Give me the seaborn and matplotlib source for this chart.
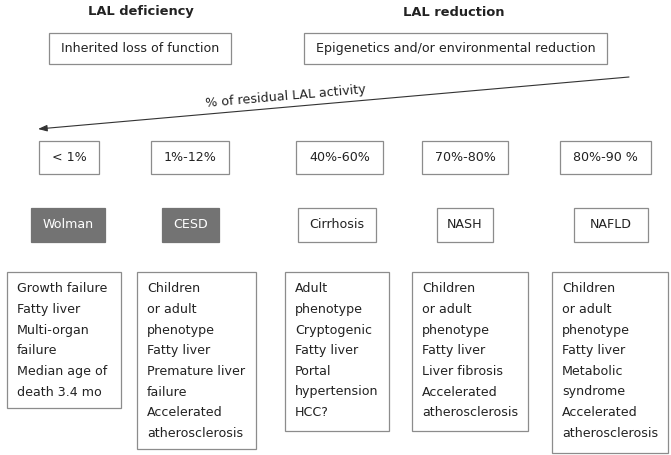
import matplotlib
matplotlib.use("Agg")
import matplotlib.pyplot as plt
from matplotlib.patches import Rectangle
import seaborn as sns

sns.set_theme(style="white")
plt.rcParams['font.family'] = ['DejaVu Sans']

# ---- content ----
group_titles = ["LAL deficiency", "LAL reduction"]
cause_labels = ["Inherited loss of function", "Epigenetics and/or environmental reduction"]
arrow_label = "% of residual LAL activity"
activity_labels = ["< 1%", "1%-12%", "40%-60%", "70%-80%", "80%-90 %"]
disease_labels = ["Wolman", "CESD", "Cirrhosis", "NASH", "NAFLD"]
disease_filled = [True, True, False, False, False]
features_wolman = ["Growth failure", "Fatty liver", "Multi-organ", "failure", "Median age of", "death 3.4 mo"]
features_cesd = ["Children", "or adult", "phenotype", "Fatty liver", "Premature liver", "failure",
                 "Accelerated", "atherosclerosis"]
features_cirrhosis = ["Adult", "phenotype", "Cryptogenic", "Fatty liver", "Portal", "hypertension", "HCC?"]
features_nash = ["Children", "or adult", "phenotype", "Fatty liver", "Liver fibrosis", "Accelerated",
                 "atherosclerosis"]
features_nafld = ["Children", "or adult", "phenotype", "Fatty liver", "Metabolic", "syndrome",
                  "Accelerated", "atherosclerosis"]
features = [features_wolman, features_cesd, features_cirrhosis, features_nash, features_nafld]

# ---- layout (pixels) ----
W, H = 671, 455
fig = plt.figure(figsize=(W / 100, H / 100), dpi=100)
ax = fig.add_axes([0, 0, 1, 1])
ax.set_xlim(0, W)
ax.set_ylim(H, 0)
ax.axis("off")

edge = "#8c8c8c"
txt = "#222222"
fill = "#737373"
fs = 9.1

def box(x0, y0, x1, y1, face="white", ec=edge):
    ax.add_patch(Rectangle((x0, y0), x1 - x0, y1 - y0, facecolor=face, edgecolor=ec, lw=0.9))

# titles
title_x = [141, 454]
for t, x in zip(group_titles, title_x):
    ax.text(x, 12, t, ha="center", va="center", fontsize=9.4, fontweight="bold", color=txt)

# cause boxes
cause_boxes = [(49, 33, 231, 64), (304, 33, 607, 64)]
for lab, (x0, y0, x1, y1) in zip(cause_labels, cause_boxes):
    box(x0, y0, x1, y1)
    ax.text((x0 + x1) / 2, (y0 + y1) / 2, lab, ha="center", va="center", fontsize=fs, color=txt)

# arrow
ax.annotate("", xy=(38, 129), xytext=(629, 77),
            arrowprops=dict(arrowstyle="-|>,head_length=0.45,head_width=0.16", color="#333333", lw=0.8,
                            shrinkA=0, shrinkB=0))
ax.text(286, 97, arrow_label, ha="center", va="center", rotation=5.0, rotation_mode="anchor",
        fontsize=fs, color=txt)

# activity boxes
act_x = [(39, 99), (151, 229), (296, 383), (422, 508), (560, 651)]
for lab, (x0, x1) in zip(activity_labels, act_x):
    box(x0, 141, x1, 174)
    ax.text((x0 + x1) / 2, 157.5, lab, ha="center", va="center", fontsize=fs, color=txt)

# disease boxes
dis_x = [(31, 105), (162, 219), (298, 376), (437, 493), (574, 648)]
for lab, filled, (x0, x1) in zip(disease_labels, disease_filled, dis_x):
    if filled:
        box(x0, 208, x1, 242, face=fill, ec=fill)
        ax.text((x0 + x1) / 2, 225, lab, ha="center", va="center", fontsize=fs, color="white")
    else:
        box(x0, 208, x1, 242)
        ax.text((x0 + x1) / 2, 225, lab, ha="center", va="center", fontsize=fs, color=txt)

# feature boxes
feat_boxes = [(7, 272, 121, 408), (137, 272, 256, 449), (285, 272, 389, 431),
              (412, 272, 528, 431), (552, 272, 668, 453)]
for lines, (x0, y0, x1, y1) in zip(features, feat_boxes):
    box(x0, y0, x1, y1)
    for i, line in enumerate(lines):
        ax.text(x0 + 10, 292.5 + i * 20.6, line, ha="left", va="baseline", fontsize=fs, color=txt)

fig.savefig("out.png", dpi=100)
